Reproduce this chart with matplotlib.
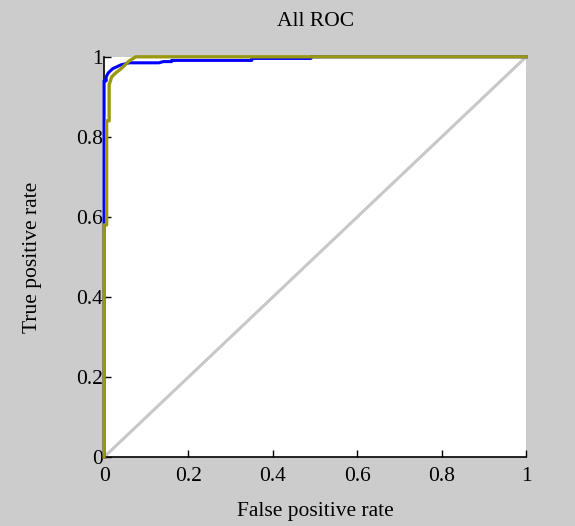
import matplotlib
matplotlib.use("Agg")
import matplotlib.pyplot as plt

plt.rcParams['font.family'] = ['Liberation Serif', 'DejaVu Serif']

# Blue ROC curve
fpr_blue = [0, 0, 0.005, 0.005, 0.01, 0.02, 0.03, 0.04, 0.06, 0.13, 0.14, 0.16, 0.16, 0.35, 0.35, 0.49, 0.49, 1.0]
tpr_blue = [0, 0.94, 0.94, 0.95, 0.96, 0.97, 0.975, 0.98, 0.985, 0.985, 0.988, 0.988, 0.991, 0.991, 0.996, 0.996, 1.0, 1.0]

# Olive ROC curve
fpr_olive = [0, 0, 0.006, 0.006, 0.012, 0.012, 0.018, 0.028, 0.04, 0.05, 0.06, 0.075, 1.0]
tpr_olive = [0, 0.58, 0.58, 0.84, 0.84, 0.93, 0.95, 0.96, 0.97, 0.98, 0.99, 1.0, 1.0]

# Chance diagonal
diag_x = [0, 1]
diag_y = [0, 1]

xticks = [0, 0.2, 0.4, 0.6, 0.8, 1]
xtick_labels = ['0', '0.2', '0.4', '0.6', '0.8', '1']
yticks = [0, 0.2, 0.4, 0.6, 0.8, 1]
ytick_labels = ['0', '0.2', '0.4', '0.6', '0.8', '1']

bg = '#cccccc'
fig = plt.figure(figsize=(5.75, 5.26), dpi=100, facecolor=bg)
ax = fig.add_axes([0.181, 0.131, 0.734, 0.761])
ax.set_facecolor('white')

ax.plot(diag_x, diag_y, color='#c8c8c8', lw=2.2, zorder=2)
ax.plot(fpr_blue, tpr_blue, color='#0000ff', lw=2.2, zorder=3, clip_on=False)
ax.plot(fpr_olive, tpr_olive, color='#999911', lw=2.4, zorder=4, clip_on=False)

ax.set_xlim(0, 1)
ax.set_ylim(0, 1)
ax.set_xticks(xticks)
ax.set_xticklabels(xtick_labels)
ax.set_yticks(yticks)
ax.set_yticklabels(ytick_labels)
ax.tick_params(direction='in', length=5, width=1, labelsize=15.5, color='black')
ax.tick_params(axis='y', pad=1)
ax.tick_params(axis='x', pad=7)

for s in ['top', 'right']:
    ax.spines[s].set_visible(False)
for s in ['left', 'bottom']:
    ax.spines[s].set_color('black')
    ax.spines[s].set_linewidth(1.2)

ax.set_title('All ROC', fontsize=15.5, pad=22)
ax.set_xlabel('False positive rate', fontsize=15.5, labelpad=12)
ax.set_ylabel('True positive rate', fontsize=15.5, labelpad=24)

fig.savefig('out.png', dpi=100, facecolor=bg)
